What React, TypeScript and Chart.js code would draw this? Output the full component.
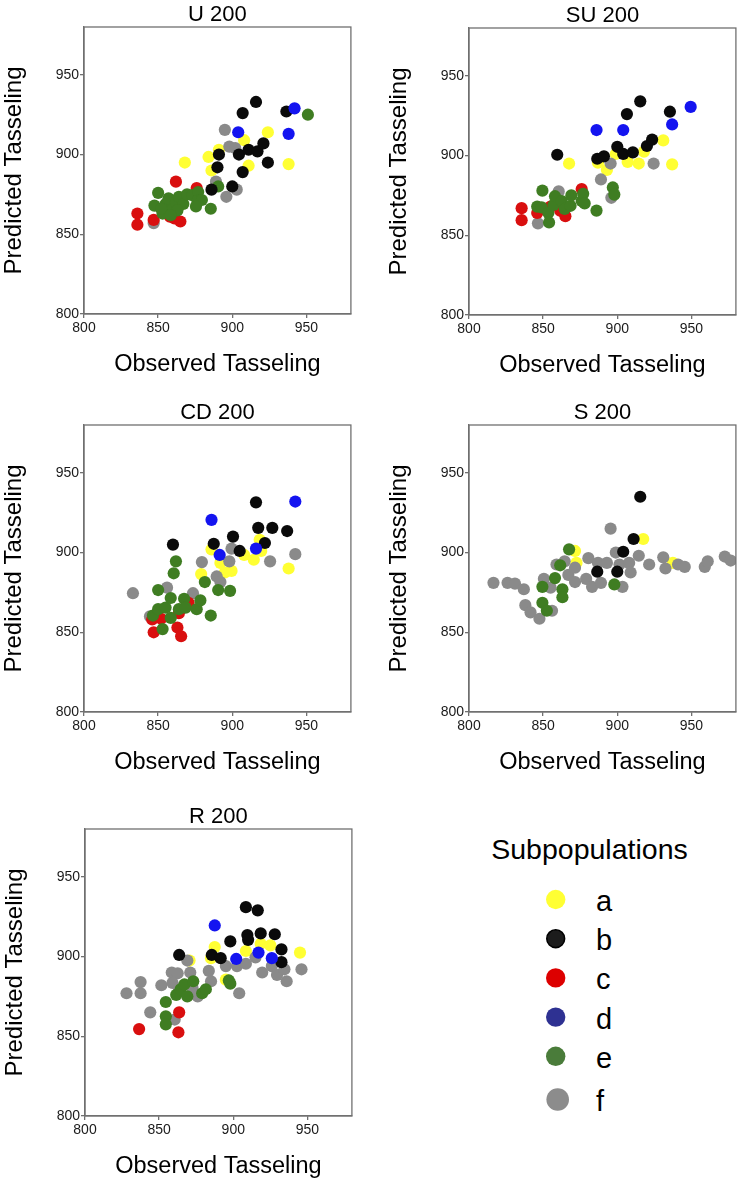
import React, { useEffect, useRef } from "react";
import { Chart, registerables } from "chart.js";

Chart.register(...registerables);

// ---------- data ----------
const SUBPOPS = ["a", "b", "c", "d", "e", "f"];
const X_TICKS = [800, 850, 900, 950];
const Y_TICKS = [800, 850, 900, 950];
const AXIS_MIN = 800;
const AXIS_MAX = 980;
const X_TITLE = "Observed Tasseling";
const Y_TITLE = "Predicted Tasseling";
const LEGEND_TITLE = "Subpopulations";

// U 200
const U_A = [[868, 895], [884, 898.5], [886, 890], [891, 903], [908, 909], [911, 893], [924, 914], [938, 894]];
const U_B = [[886, 878], [890, 892], [891, 900], [900, 880], [904.5, 900], [907, 889], [907, 926], [911, 903], [916, 933], [917, 902], [921, 907], [924, 895], [936.5, 927]];
const U_C = [[836, 863], [836, 856], [847, 859], [862, 883], [861, 860], [865, 858], [876, 879], [858, 861]];
const U_D = [[904, 914], [942, 929], [938, 913]];
const U_E = [[850, 876], [847.5, 868], [853, 863], [855, 869], [857, 872.5], [859.5, 865.5], [862, 870], [864, 873.5], [867, 869], [869.5, 875], [873, 874.5], [877, 876.5], [876.5, 871], [879.5, 871.5], [875.5, 867.5], [885.5, 866], [890.5, 880], [951, 925], [852, 866], [863, 865], [858.5, 862]];
const U_F = [[847, 857], [895, 915.5], [898, 905], [902, 904], [896, 873.5], [903, 878], [889, 883]];

// SU 200
const SU_A = [[867.5, 895], [887, 895.5], [893, 891], [899, 901], [907, 896], [914.5, 895], [918, 902.5], [931, 909.5], [937, 894.5]];
const SU_B = [[859.5, 900.5], [886.5, 898], [891, 899.5], [900, 905.5], [904, 901], [906.5, 926], [910.5, 902], [915.5, 934], [920, 906], [923.5, 910], [935.5, 927.5]];
const SU_C = [[835.5, 867], [835.5, 859.5], [846, 864], [861.5, 865.5], [865, 862], [876, 879], [855, 868]];
const SU_D = [[886, 916], [904, 916], [937, 919.5], [949.5, 930.5]];
const SU_E = [[849.5, 878], [846, 868], [849, 867.5], [853.5, 864], [854, 858], [857, 869], [858, 874.5], [862.5, 871.5], [864.5, 866.5], [868.5, 868.5], [869, 875], [876, 871.5], [877, 876], [878, 870], [886, 865.5], [897, 880], [898, 875.5]];
const SU_F = [[846.5, 857.5], [860.5, 877.5], [889, 885], [895.5, 895], [896, 873.5], [924.5, 895]];

// CD 200
const CD_A = [[879, 886.5], [886, 902], [892, 893.5], [899.5, 888.5], [908, 898.5], [914.5, 895.5], [918.5, 908], [919.5, 901], [938, 890], [895, 887.5]];
const CD_B = [[860, 905], [887.5, 905.5], [900.5, 910], [905, 901], [916, 931.5], [917.5, 915.5], [922, 906], [927, 915.5], [937, 913.5]];
const CD_C = [[847, 850], [846, 858], [852, 858.5], [863, 853], [865.5, 847.5], [864, 862], [870.5, 868.5]];
const CD_D = [[886, 920.5], [891.5, 898.5], [916, 902.5], [942.5, 932]];
const CD_E = [[850, 876.5], [846.5, 860.5], [850, 864.5], [853, 852], [855, 865.5], [858.5, 871.5], [858.5, 859], [862, 894.5], [860.5, 887], [864, 864.5], [867.5, 871], [868.5, 865.5], [876, 864.5], [878.5, 870], [881.5, 881.5], [885.5, 860.5], [890.5, 876.5], [898.5, 876]];
const CD_F = [[833, 874.5], [844.5, 860], [856, 878], [873.5, 874.5], [879.5, 894], [889.5, 885], [892, 881.5], [898, 894.5], [899.5, 902.5], [925.5, 894.5], [942.5, 899]];

// S 200
const S_A = [[871.5, 901], [872.5, 893.5], [917.5, 908.5], [937.5, 893.5]];
const S_B = [[886.5, 888], [900, 888], [904, 900.5], [911, 908.5], [915.5, 935]];
const S_C: number[][] = [];
const S_D: number[][] = [];
const S_E = [[849.5, 878.5], [849.5, 868.5], [852.5, 863.5], [858, 884], [861.5, 892], [863, 877], [863, 872], [867.5, 902], [898, 880]];
const S_F = [[816.5, 881], [826, 881], [831, 880.5], [837, 877], [838, 867], [841.5, 862.5], [847.5, 858.5], [850.5, 883.5], [855, 878], [856, 863.5], [859, 892.5], [864.5, 894.5], [867, 886], [871.5, 890.5], [871.5, 881.5], [879, 883.5], [880.5, 896.5], [883, 878.5], [887, 893.5], [893, 893.5], [895.5, 915], [889, 881], [899, 900], [901.5, 892.5], [903.5, 878.5], [908, 893.5], [909, 887.5], [914.5, 898], [921.5, 892.5], [931, 897], [932.5, 890], [941, 892.5], [945.5, 891], [959, 891], [961, 894.5], [972.5, 897.5], [976.5, 895]];

// R 200
const R_A = [[870.5, 897.5], [885, 899], [887.5, 906], [895, 885.5], [908.5, 903.5], [918.5, 908], [925, 907], [945, 902.5]];
const R_B = [[863.5, 901], [885.5, 901], [891.5, 899], [898, 909.5], [908.5, 931], [909.5, 913.5], [910, 910.5], [916.5, 929], [918.5, 914.5], [928, 914], [932.5, 904.5], [932.5, 896.5]];
const R_C = [[836.5, 854.5], [863.5, 865], [863, 852.5]];
const R_D = [[887.5, 919.5], [902, 898.5], [917, 902.5], [926, 899]];
const R_E = [[854.5, 871.5], [854.5, 862.5], [854.5, 857.5], [861.5, 876], [864.5, 879.5], [867, 882.5], [869, 875], [873, 884.5], [879, 877], [881.5, 879.5], [897, 885], [898, 883]];
const R_F = [[828, 877], [837.5, 884], [837.5, 877], [844, 865], [851.5, 882], [858.5, 890], [862.5, 889.5], [859, 883.5], [863.5, 879.5], [869, 897.5], [871, 890], [872.5, 880.5], [876, 875], [883.5, 891], [885, 884.5], [895, 894], [904, 877], [902.5, 894], [908.5, 895.5], [919.5, 890], [926, 894], [929.5, 888.5], [934.5, 892], [936, 884.5], [946, 892], [860.5, 860.5], [915, 899.5]];

const PANELS = [
  { title: "U 200", series: [U_A, U_B, U_C, U_D, U_E, U_F] },
  { title: "SU 200", series: [SU_A, SU_B, SU_C, SU_D, SU_E, SU_F] },
  { title: "CD 200", series: [CD_A, CD_B, CD_C, CD_D, CD_E, CD_F] },
  { title: "S 200", series: [S_A, S_B, S_C, S_D, S_E, S_F] },
  { title: "R 200", series: [R_A, R_B, R_C, R_D, R_E, R_F] },
];

// ---------- styles / layout ----------
const FONT = "'Liberation Sans', Arial, Helvetica, sans-serif";
const POINT_COLORS = ["#ffff33", "#0a0a0a", "#d90f0f", "#1414f0", "#3f7d22", "#8a8a8a"];
const LEGEND_COLORS = ["#ffff33", "#000000", "#dd0000", "#2e3192", "#4a7c3a", "#8c8c8c"];
const DRAW_ORDER = [5, 1, 3, 0, 2, 4]; // lower = on top
const AXIS_COLOR = "#707070";
const POINT_R = 6.1;

const PLOT_LEFT = 84;
const PLOT_TOP = 27;
const PLOT_W = 268;
const PLOT_H = 287;
const X_AXIS_H = 76;
const RIGHT_PAD = 5;
const CANVAS_W = PLOT_LEFT + PLOT_W + RIGHT_PAD;
const CANVAS_H = PLOT_TOP + PLOT_H + X_AXIS_H;

const PANEL_POS = [
  { left: 0, top: 0 },
  { left: 385, top: 1 },
  { left: 0, top: 398 },
  { left: 385, top: 398 },
  { left: 1, top: 802 },
];

const framePlugin = {
  id: "frameBox",
  afterDraw(chart: any) {
    const { ctx, chartArea: a } = chart;
    ctx.save();
    ctx.strokeStyle = AXIS_COLOR;
    ctx.lineWidth = 1.3;
    ctx.strokeRect(a.left, a.top, a.right - a.left, a.bottom - a.top);
    ctx.restore();
  },
};

function axisCommon(ticks: number[]) {
  return {
    type: "linear" as const,
    min: AXIS_MIN,
    max: AXIS_MAX,
    afterBuildTicks: (s: any) => {
      s.ticks = ticks.map((v) => ({ value: v }));
    },
    grid: {
      display: true,
      drawOnChartArea: false,
      drawTicks: true,
      tickLength: 4,
      color: AXIS_COLOR,
      lineWidth: 1.3,
    },
    border: { display: true, color: AXIS_COLOR, width: 1.3 },
  };
}

function Panel({ title, series, pos }: { title: string; series: number[][][]; pos: { left: number; top: number } }) {
  const ref = useRef<HTMLCanvasElement | null>(null);
  useEffect(() => {
    if (!ref.current) return;
    const chart = new Chart(ref.current, {
      type: "scatter",
      data: {
        datasets: SUBPOPS.map((s, i) => ({
          label: s,
          data: series[i].map(([x, y]) => ({ x, y })),
          pointBackgroundColor: POINT_COLORS[i],
          pointBorderColor: POINT_COLORS[i],
          backgroundColor: POINT_COLORS[i],
          pointBorderWidth: 0,
          pointRadius: POINT_R,
          pointHoverRadius: POINT_R,
          order: DRAW_ORDER[i],
          clip: 0,
        })),
      },
      options: {
        animation: false,
        responsive: false,
        devicePixelRatio: 1,
        events: [],
        layout: { padding: { left: 0, top: 0, right: RIGHT_PAD, bottom: 0 } },
        plugins: {
          legend: { display: false },
          tooltip: { enabled: false },
          title: {
            display: true,
            text: title,
            fullSize: false,
            color: "#000",
            font: { family: FONT, size: 22, weight: "normal", lineHeight: 1.1 },
            padding: { top: 2.7, bottom: 0.1 },
          },
        },
        scales: {
          x: {
            ...axisCommon(X_TICKS),
            position: "bottom",
            afterFit: (s: any) => {
              s.height = X_AXIS_H;
            },
            ticks: {
              color: "#1a1a1a",
              font: { family: FONT, size: 14 },
              padding: 2,
              maxRotation: 0,
              autoSkip: false,
            },
            title: {
              display: true,
              text: X_TITLE,
              color: "#000",
              font: { family: FONT, size: 23.5 },
              padding: { top: 0, bottom: 11.6 },
            },
          },
          y: {
            ...axisCommon(Y_TICKS),
            position: "left",
            afterFit: (s: any) => {
              s.width = PLOT_LEFT;
            },
            ticks: {
              color: "#1a1a1a",
              font: { family: FONT, size: 14 },
              padding: 1,
              autoSkip: false,
            },
            title: {
              display: true,
              text: Y_TITLE,
              color: "#000",
              font: { family: FONT, size: 24 },
              padding: { top: 0, bottom: 0 },
            },
          },
        },
      },
      plugins: [framePlugin],
    } as any);
    return () => chart.destroy();
  }, [title, series]);
  return (
    <canvas
      ref={ref}
      width={CANVAS_W}
      height={CANVAS_H}
      style={{ position: "absolute", left: pos.left, top: pos.top, width: CANVAS_W, height: CANVAS_H, display: "block" }}
    />
  );
}

function Legend() {
  const cx = 185.7;
  return (
    <svg
      width={372}
      height={395}
      style={{ position: "absolute", left: 370, top: 790, display: "block" }}
      fontFamily={FONT}
    >
      <text x={219.5} y={69.3} fontSize={28.5} textAnchor="middle" fill="#000">
        {LEGEND_TITLE}
      </text>
      {SUBPOPS.map((s, i) => {
        const cy = 109.5 + 39.2 * i + (i === 5 ? 4 : 0);
        const r = i === 5 ? 11.3 : 9.7;
        return (
          <g key={s}>
            <circle
              cx={i === 5 ? cx + 2 : cx}
              cy={cy}
              r={i === 1 ? r - 0.8 : r}
              fill={i === 1 ? "#1c1c1c" : LEGEND_COLORS[i]}
              stroke={i === 1 ? "#000" : "none"}
              strokeWidth={i === 1 ? 1.6 : 0}
            />
            <text x={226} y={cy + 11.5} fontSize={29} fill="#000">
              {s}
            </text>
          </g>
        );
      })}
    </svg>
  );
}

export default function App() {
  return (
    <div
      style={{
        position: "absolute",
        left: 0,
        top: 0,
        width: 742,
        height: 1185,
        overflow: "hidden",
        background: "#fff",
      }}
    >
      {PANELS.map((p, i) => (
        <Panel key={p.title} title={p.title} series={p.series} pos={PANEL_POS[i]} />
      ))}
      <Legend />
    </div>
  );
}
